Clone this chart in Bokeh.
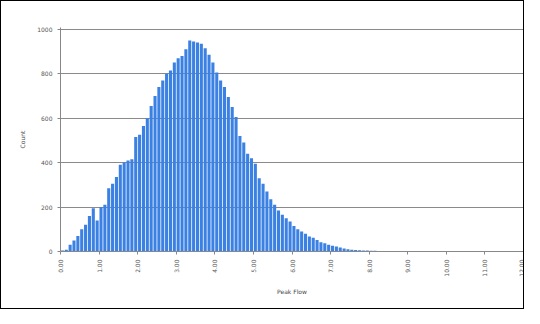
import numpy as np
from bokeh.plotting import figure
from bokeh.models import ColumnDataSource, FixedTicker, Range1d
from bokeh.embed import file_html
from bokeh.resources import INLINE

# Histogram counts per bin (120 bins)
counts = [5, 8, 30, 50, 70, 100, 120, 160, 195, 140,
          200, 210, 285, 305, 335, 390, 400, 410, 415, 515,
          525, 565, 600, 655, 700, 740, 770, 800, 815, 850,
          870, 880, 910, 950, 945, 940, 935, 915, 885, 850,
          805, 770, 740, 695, 650, 605, 520, 490, 440, 420,
          395, 330, 305, 270, 235, 210, 185, 165, 150, 135,
          115, 100, 90, 80, 68, 62, 52, 42, 37, 30,
          26, 22, 18, 13, 10, 8, 7, 6, 5, 4,
          3, 3, 2, 2, 1, 2, 1, 1, 1, 0,
          1, 0, 0, 1, 0, 0, 0, 0, 0, 0,
          0, 0, 0, 0, 0, 0, 0, 0, 0, 0,
          0, 0, 0, 0, 0, 0, 0, 0, 0, 0]
tick_labels = ["0.00", "1.00", "2.00", "3.00", "4.00", "5.00", "6.00",
               "7.00", "8.00", "9.00", "10.00", "11.00", "12.00"]
y_ticks = [0, 200, 400, 600, 800, 1000]

n = len(counts)
x = [i + 0.5 for i in range(n)]
src = ColumnDataSource(dict(x=x, top=counts))

p = figure(width=524, height=309, output_backend="svg", toolbar_location=None,
           x_range=Range1d(0, n), y_range=Range1d(0, 1008),
           min_border_left=59, min_border_right=2, min_border_top=26,
           min_border_bottom=59, outline_line_color=None)
p.styles = {"border": "1px solid black", "box-sizing": "border-box"}

p.vbar(x="x", top="top", width=0.8, source=src, fill_color="#3b80e3",
       line_color=None)

# x axis
xt = [i * 10 for i in range(len(tick_labels))]
p.xaxis.ticker = FixedTicker(ticks=xt)
p.xaxis.major_label_overrides = {t: l for t, l in zip(xt, tick_labels)}
p.xaxis.major_label_orientation = np.pi / 2
p.xaxis.axis_label = "Peak Flow"
p.yaxis.axis_label = "Count"
p.yaxis.ticker = FixedTicker(ticks=y_ticks)
for ax in (p.xaxis[0], p.yaxis[0]):
    ax.axis_line_color = "#888888"
    ax.major_tick_line_color = "#888888"
    ax.minor_tick_line_color = None
    ax.major_tick_out = 3
    ax.major_tick_in = 0
    ax.major_label_text_font_size = "6px"
    ax.major_label_text_color = "#555555"
    ax.axis_label_text_font_size = "6px"
    ax.axis_label_text_font_style = "normal"
    ax.axis_label_text_color = "#444444"
    ax.major_label_text_font = "DejaVu Sans"
    ax.axis_label_text_font = "DejaVu Sans"
p.yaxis.axis_label_standoff = 8
p.xaxis.axis_label_standoff = 8

p.xgrid.grid_line_color = None
p.ygrid.ticker = FixedTicker(ticks=y_ticks)
p.ygrid.grid_line_color = "#8a8a8a"
p.ygrid.grid_line_width = 1

open("out.html", "w").write(file_html(p, INLINE))
